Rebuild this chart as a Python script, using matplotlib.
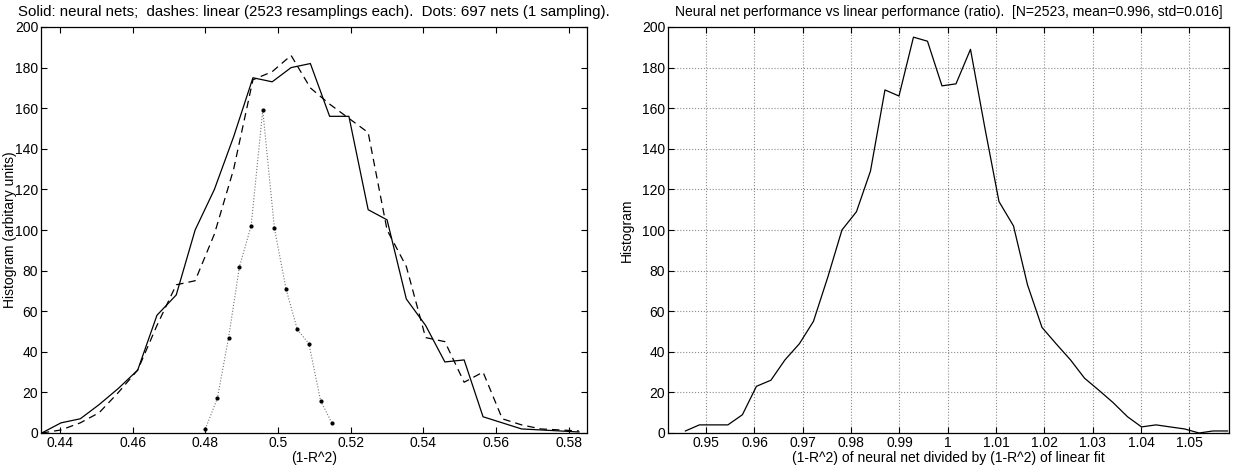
import matplotlib
matplotlib.use('Agg')
import matplotlib.pyplot as plt
import numpy as np

plt.rcParams['font.family'] = ['Liberation Sans', 'DejaVu Sans']
plt.rcParams['font.size'] = 10

# left panel: histograms of (1-R^2)
bin_x = [0.4350, 0.4403, 0.4456, 0.4508, 0.4561, 0.4614, 0.4667, 0.4720,
         0.4772, 0.4825, 0.4878, 0.4931, 0.4984, 0.5036, 0.5089, 0.5142,
         0.5195, 0.5248, 0.5300, 0.5353, 0.5406, 0.5459, 0.5512, 0.5564,
         0.5617, 0.5670, 0.5723, 0.5776, 0.5828]
neural = [0, 5, 7, 14, 22, 31, 58, 68, 100, 120, 146, 175, 173, 180, 182,
          156, 156, 110, 105, 66, 53, 35, 36, 8, 5, 2, 1.5, 1, 0.5]
linear = [0, 1.5, 5, 10, 20, 31, 53, 73, 75, 98, 130, 174, 178, 186, 170,
          162, 155, 148, 100, 82, 47, 45, 25, 30, 7, 4, 2, 1.5, 1]

dot_x = [0.4800, 0.4833, 0.4864, 0.4894, 0.4926, 0.4958, 0.4990, 0.5022,
         0.5053, 0.5085, 0.5117, 0.5148]
dot_y = [2, 17, 47, 82, 102, 159, 101, 71, 51, 44, 16, 5]

# right panel: ratio histogram
ratio_x = [0.9457, 0.9486, 0.9516, 0.9545, 0.9575, 0.9604, 0.9634, 0.9663,
           0.9693, 0.9722, 0.9752, 0.9781, 0.9811, 0.9840, 0.9870, 0.9899,
           0.9929, 0.9958, 0.9988, 1.0017, 1.0047, 1.0077, 1.0106, 1.0136,
           1.0165, 1.0195, 1.0224, 1.0254, 1.0283, 1.0313, 1.0342, 1.0372,
           1.0401, 1.0431, 1.0460, 1.0490, 1.0520, 1.0549, 1.0579]
ratio_y = [1, 4, 4, 4, 9, 23, 26, 36, 44, 55, 77, 100, 109, 129, 169, 166,
           195, 193, 171, 172, 189, 150, 114, 102, 73, 52, 44, 36, 27, 21,
           15, 8, 3, 4, 3, 2, 0, 1, 1]

left_ticks = [0.44, 0.46, 0.48, 0.5, 0.52, 0.54, 0.56, 0.58]
right_ticks = [0.95, 0.96, 0.97, 0.98, 0.99, 1, 1.01, 1.02, 1.03, 1.04, 1.05]
y_ticks = list(range(0, 201, 20))


def matlab_axes(ax):
    ax.tick_params(direction='in', top=True, right=True, length=4, width=0.8,
                   pad=2, labelsize=10)
    for s in ax.spines.values():
        s.set_linewidth(0.9)
    ax.set_ylim(0, 200)
    ax.set_yticks(y_ticks)
    ax.set_yticklabels([str(t) for t in y_ticks])


fig = plt.figure(figsize=(12.35, 4.7), dpi=100)

ax1 = fig.add_axes([41 / 1235, 1 - 433 / 470, 546 / 1235, 406 / 470])
ax1.plot(bin_x, neural, '-', color='k', lw=0.9)
ax1.plot(bin_x, linear, '--', color='k', lw=0.9, dashes=(6, 4))
ax1.plot(dot_x, dot_y, ':', color='0.45', lw=0.8)
ax1.plot(dot_x, dot_y, '.', color='k', ms=4, ls='none')
ax1.set_xlim(0.4348, 0.585)
ax1.set_xticks(left_ticks)
ax1.set_xticklabels(['%g' % t for t in left_ticks])
matlab_axes(ax1)
ax1.set_title('Solid: neural nets;  dashes: linear (2523 resamplings each).  '
              'Dots: 697 nets (1 sampling).', fontsize=10.8, pad=8)
ax1.set_xlabel('(1-R^2)', labelpad=1)
ax1.set_ylabel('Histogram (arbitary units)')
ax1.yaxis.set_label_coords(-0.044, 0.5)

ax2 = fig.add_axes([668 / 1235, 1 - 433 / 470, 561 / 1235, 406 / 470])
ax2.plot(ratio_x, ratio_y, '-', color='k', lw=0.9)
ax2.set_xlim(0.9421, 1.0582)
ax2.set_xticks(right_ticks)
ax2.set_xticklabels(['%g' % t for t in right_ticks])
matlab_axes(ax2)
ax2.grid(True, linestyle=':', color='0.55', lw=0.8)
ax2.set_title('Neural net performance vs linear performance (ratio).  '
              '[N=2523, mean=0.996, std=0.016]', fontsize=10, pad=8)
ax2.set_xlabel('(1-R^2) of neural net divided by (1-R^2) of linear fit',
               labelpad=1)
ax2.set_ylabel('Histogram')
ax2.yaxis.set_label_coords(-0.061, 0.5)

fig.savefig('out.png', dpi=100)
